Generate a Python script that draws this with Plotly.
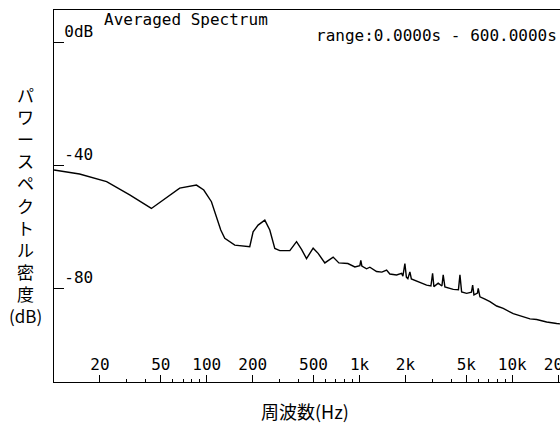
import plotly.graph_objects as go

# Averaged spectrum (frequency in Hz, level in dB)
freq_hz = [10, 14.7, 22.1, 31.3, 43.4, 53.1, 66.5, 85.6, 95.6, 107.3, 115.7, 123.5, 131.2,
           152.6, 191.2, 201.1, 216.8, 239.9, 258.6, 278.9, 300.8, 349.8, 387.0, 417.3,
           449.9, 497.1, 535.9, 592.9, 672.1, 732.5, 838.8, 932.2, 1005, 1020, 1036, 1112,
           1169, 1293, 1401, 1504, 1580, 1748, 1886, 1923, 1982, 2027, 2073, 2137, 2185,
           2485, 2749, 2934, 3009, 3069, 3274, 3463, 3531, 3622, 4107, 4443, 4544, 4661,
           5027, 5404, 5504, 5612, 5916, 5988, 6143, 6626, 7144, 7904, 8730, 10150, 11230,
           13060, 14450, 16800, 19540, 20540]
level_db = [-41.4, -42.7, -45.2, -49.5, -53.9, -50.8, -47.3, -46.3, -47.9, -51.7, -56.6, -60.9,
            -63.6, -65.8, -66.3, -61.5, -59.3, -57.7, -60.9, -66.9, -67.6, -67.6, -64.7, -67.2,
            -70.2, -66.8, -68.5, -71.6, -69.7, -71.6, -71.8, -72.9, -72.5, -70.8, -72.6, -73.5,
            -73.0, -74.4, -74.6, -73.9, -75.2, -75.5, -75.0, -75.9, -71.8, -76.2, -76.7, -74.5,
            -76.8, -78.0, -78.8, -79.1, -75.0, -79.3, -78.2, -79.1, -75.5, -79.4, -80.2, -80.3,
            -75.5, -81.0, -81.5, -81.1, -78.8, -82.0, -81.4, -79.9, -82.6, -83.4, -84.2, -85.6,
            -86.4, -88.1, -88.7, -89.8, -90.0, -90.8, -91.3, -91.4]

x_tickvals = [20, 50, 100, 200, 500, 1000, 2000, 5000, 10000, 20000]
x_ticktext = ["20", "50", "100", "200", "500", "1k", "2k", "5k", "10k", "20k"]
x_minor = [30, 40, 60, 70, 80, 90, 300, 400, 600, 700, 800, 900,
           3000, 4000, 6000, 7000, 8000, 9000]
y_tickvals = [0, -40, -80]
y_ticktext = ["0dB", "-40", "-80"]

title_text = "Averaged Spectrum"
range_text = "range:0.0000s - 600.0000s"
x_title = "周波数(Hz)"
y_title = "パワースペクトル密度(dB)"

mono = "DejaVu Sans Mono"
jp = "Noto Sans CJK JP"

fig = go.Figure()
fig.add_trace(go.Scatter(x=freq_hz, y=level_db, mode="lines",
                         line=dict(color="black", width=1.4), showlegend=False,
                         hoverinfo="skip"))

fig.update_layout(
    width=560, height=424, autosize=False,
    margin=dict(l=54, r=0, t=10, b=42),
    paper_bgcolor="white", plot_bgcolor="white",
    font=dict(family=mono, size=16, color="black"),
    xaxis=dict(type="log", range=[1, 4.3125], showgrid=False, zeroline=False,
               automargin=False,
               showline=True, linecolor="black", linewidth=1, mirror=True,
               tickmode="array", tickvals=x_tickvals, ticktext=x_ticktext,
               ticks="inside", ticklen=7, tickcolor="black", tickwidth=1,
               ticklabelposition="inside", ticklabeloverflow="allow",
               ticklabelstandoff=2,
               tickfont=dict(family=mono, size=16, color="black"),
               minor=dict(tickmode="array", tickvals=x_minor, ticks="inside",
                          ticklen=3, tickcolor="black", tickwidth=1, showgrid=False)),
    yaxis=dict(range=[-110.3, 10.6], showgrid=False, zeroline=False,
               automargin=False,
               showline=True, linecolor="black", linewidth=1, mirror=False,
               tickmode="array", tickvals=y_tickvals, ticktext=y_ticktext,
               ticks="inside", ticklen=10, tickcolor="black", tickwidth=1,
               ticklabelposition="inside top", ticklabelstandoff=10,
               tickfont=dict(family=mono, size=16, color="black")),
)

fig.add_annotation(text=title_text, xref="paper", yref="paper", x=(102 - 54) / 506, y=1,
                   xanchor="left", yanchor="top", showarrow=False, yshift=2,
                   font=dict(family=mono, size=16, color="black"))
fig.add_annotation(text=range_text, xref="paper", yref="paper", x=1, y=1,
                   xanchor="right", yanchor="top", showarrow=False, xshift=-1, yshift=-14,
                   font=dict(family=mono, size=16, color="black"))
fig.add_annotation(text=x_title, xref="paper", yref="paper", x=(305 - 54) / 506, y=0,
                   xanchor="center", yanchor="middle", showarrow=False, yshift=-29,
                   font=dict(family=jp, size=18, color="black"))
fig.add_annotation(text="<br>".join(list(y_title[:10]) + [y_title[10:]]),
                   xref="paper", yref="paper", x=0, y=(382 - 205) / 372,
                   xanchor="center", yanchor="middle", showarrow=False, xshift=-29,
                   font=dict(family=jp, size=17, color="black"))

fig.write_html(
    "out.html",
    config={"displayModeBar": False, "responsive": False, "staticPlot": True},
    post_script=("document.body.style.margin='0';document.body.style.overflow='hidden';"
                 "Plotly.relayout('{plot_id}', {width: 560, height: 424});"),
)
